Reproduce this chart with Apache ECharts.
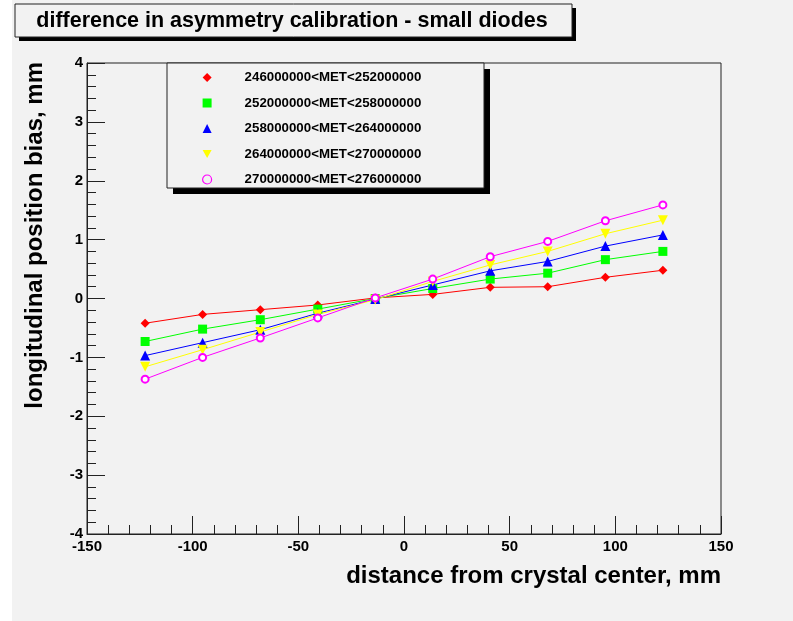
<!DOCTYPE html>
<html>
<head>
<meta charset="utf-8">
<script src="https://cdn.jsdelivr.net/npm/echarts@6/dist/echarts.min.js"></script>
<style>
  html, body { margin: 0; padding: 0; background: #ffffff; }
  #chart { width: 793px; height: 621px; }
</style>
</head>
<body>
<div id="chart"></div>
<script>
// Bin centres along the crystal (mm)
const distance = [-122.5, -95.3, -68.0, -40.8, -13.6, 13.6, 40.8, 68.0, 95.3, 122.5];

// Longitudinal position bias (mm) for each MET window
const bias246 = [-0.42, -0.27, -0.19, -0.11, 0.01, 0.07, 0.19, 0.20, 0.36, 0.48];
const bias252 = [-0.73, -0.52, -0.36, -0.18, 0.00, 0.17, 0.33, 0.43, 0.66, 0.80];
const bias258 = [-0.97, -0.75, -0.53, -0.25, -0.01, 0.23, 0.47, 0.63, 0.89, 1.08];
const bias264 = [-1.16, -0.87, -0.57, -0.27, -0.02, 0.29, 0.57, 0.80, 1.10, 1.33];
const bias270 = [-1.37, -1.00, -0.67, -0.33, 0.01, 0.33, 0.71, 0.97, 1.32, 1.59];

const seriesNames = [
  '246000000<MET<252000000',
  '252000000<MET<258000000',
  '258000000<MET<264000000',
  '264000000<MET<270000000',
  '270000000<MET<276000000'
];

const xTicks = [-150, -100, -50, 0, 50, 100, 150];
const yTicks = [-4, -3, -2, -1, 0, 1, 2, 3, 4];

const FONT = '"Liberation Sans", Arial, Helvetica, sans-serif';
const downTriangle = 'path://M0,0L10,0L5,9Z';

const styles = [
  { values: bias246, color: '#ff0000', symbol: 'diamond', size: 9, icon: 'diamond' },
  { values: bias252, color: '#00ff00', symbol: 'rect', size: 9, icon: 'rect' },
  { values: bias258, color: '#0000ff', symbol: 'triangle', size: 10, icon: 'triangle' },
  { values: bias264, color: '#ffff00', symbol: downTriangle, size: 10, icon: downTriangle },
  { values: bias270, color: '#ff00ff', symbol: 'emptyCircle', size: 7, icon: 'emptyCircle' }
];

const series = styles.map((s, i) => ({
  name: seriesNames[i],
  type: 'line',
  data: distance.map((x, k) => [x, s.values[k]]),
  symbol: s.symbol,
  symbolSize: s.size,
  showSymbol: true,
  lineStyle: { color: s.color, width: 1 },
  itemStyle: { color: s.color, borderColor: s.color, borderWidth: s.symbol === 'emptyCircle' ? 1.2 : 0 },
  emphasis: { disabled: true },
  animation: false,
  z: 3
}));

const legendItems = styles.map((s, i) => {
  const ring = s.icon === 'emptyCircle';
  return {
    name: seriesNames[i],
    icon: ring ? 'circle' : s.icon,
    itemStyle: ring
      ? { color: '#f2f2f2', borderColor: s.color, borderWidth: 1.2 }
      : { color: s.color, borderColor: s.color, borderWidth: 0 }
  };
});

const chart = echarts.init(document.getElementById('chart'), null, { renderer: 'canvas' });

chart.setOption({
  backgroundColor: 'transparent',
  animation: false,
  graphic: [
    // canvas pad
    { type: 'rect', shape: { x: 12, y: 0, width: 781, height: 621 }, style: { fill: '#f2f2f2' }, z: -10 },
    // title box with drop shadow
    { type: 'rect', shape: { x: 19, y: 8, width: 557, height: 33 }, style: { fill: '#000000' }, z: 1 },
    { type: 'rect', shape: { x: 15, y: 4, width: 557, height: 33 }, style: { fill: '#f2f2f2', stroke: '#222222', lineWidth: 1 }, z: 2 },
    { type: 'text', x: 292, y: 21, style: { text: 'difference in asymmetry calibration - small diodes', font: 'bold 21.5px ' + FONT, fill: '#000000', align: 'center', verticalAlign: 'middle' }, z: 3 },
    // legend box with drop shadow
    { type: 'rect', shape: { x: 173, y: 69, width: 317, height: 125 }, style: { fill: '#000000' }, z: 10 },
    { type: 'rect', shape: { x: 167, y: 63, width: 317, height: 125 }, style: { fill: '#f2f2f2', stroke: '#222222', lineWidth: 1 }, z: 11 },
    // axis titles
    { type: 'text', x: 721, y: 576, style: { text: 'distance from crystal center, mm', font: 'bold 24px ' + FONT, fill: '#000000', align: 'right', verticalAlign: 'middle' }, z: 3 },
    { type: 'text', x: 35, y: 62, rotation: Math.PI / 2, style: { text: 'longitudinal position bias, mm', font: 'bold 24px ' + FONT, fill: '#000000', align: 'right', verticalAlign: 'middle' }, z: 3 }
  ],
  legend: {
    orient: 'vertical',
    left: 197,
    top: 66,
    itemWidth: 9,
    itemHeight: 9,
    itemGap: 12.5,
    z: 20,
    selectedMode: false,
    data: legendItems,
    textStyle: { fontFamily: FONT, fontWeight: 'bold', fontSize: 13.3, color: '#000000', padding: [0, 0, 0, 28] }
  },
  grid: {
    left: 87, right: 72, top: 63, bottom: 87,
    show: true, borderColor: '#222222', borderWidth: 1, backgroundColor: 'transparent',
    containLabel: false
  },
  xAxis: {
    type: 'value',
    min: xTicks[0], max: xTicks[xTicks.length - 1], interval: 50,
    axisLine: { show: true, onZero: false, lineStyle: { color: '#222222', width: 1 } },
    axisTick: { show: true, inside: true, length: 18, lineStyle: { color: '#222222' } },
    minorTick: { show: true, splitNumber: 5, length: 9, lineStyle: { color: '#222222' } },
    splitLine: { show: false },
    axisLabel: { show: true, margin: 5, fontFamily: FONT, fontWeight: 'bold', fontSize: 15, color: '#000000', showMinLabel: true, showMaxLabel: true }
  },
  yAxis: {
    type: 'value',
    min: yTicks[0], max: yTicks[yTicks.length - 1], interval: 1,
    axisLine: { show: true, onZero: false, lineStyle: { color: '#222222', width: 1 } },
    axisTick: { show: true, inside: true, length: 18, lineStyle: { color: '#222222' } },
    minorTick: { show: true, splitNumber: 5, length: 9, lineStyle: { color: '#222222' } },
    splitLine: { show: false },
    axisLabel: { show: true, margin: 4, fontFamily: FONT, fontWeight: 'bold', fontSize: 15, color: '#000000', showMinLabel: true, showMaxLabel: true }
  },
  series: series
});
</script>
</body>
</html>
